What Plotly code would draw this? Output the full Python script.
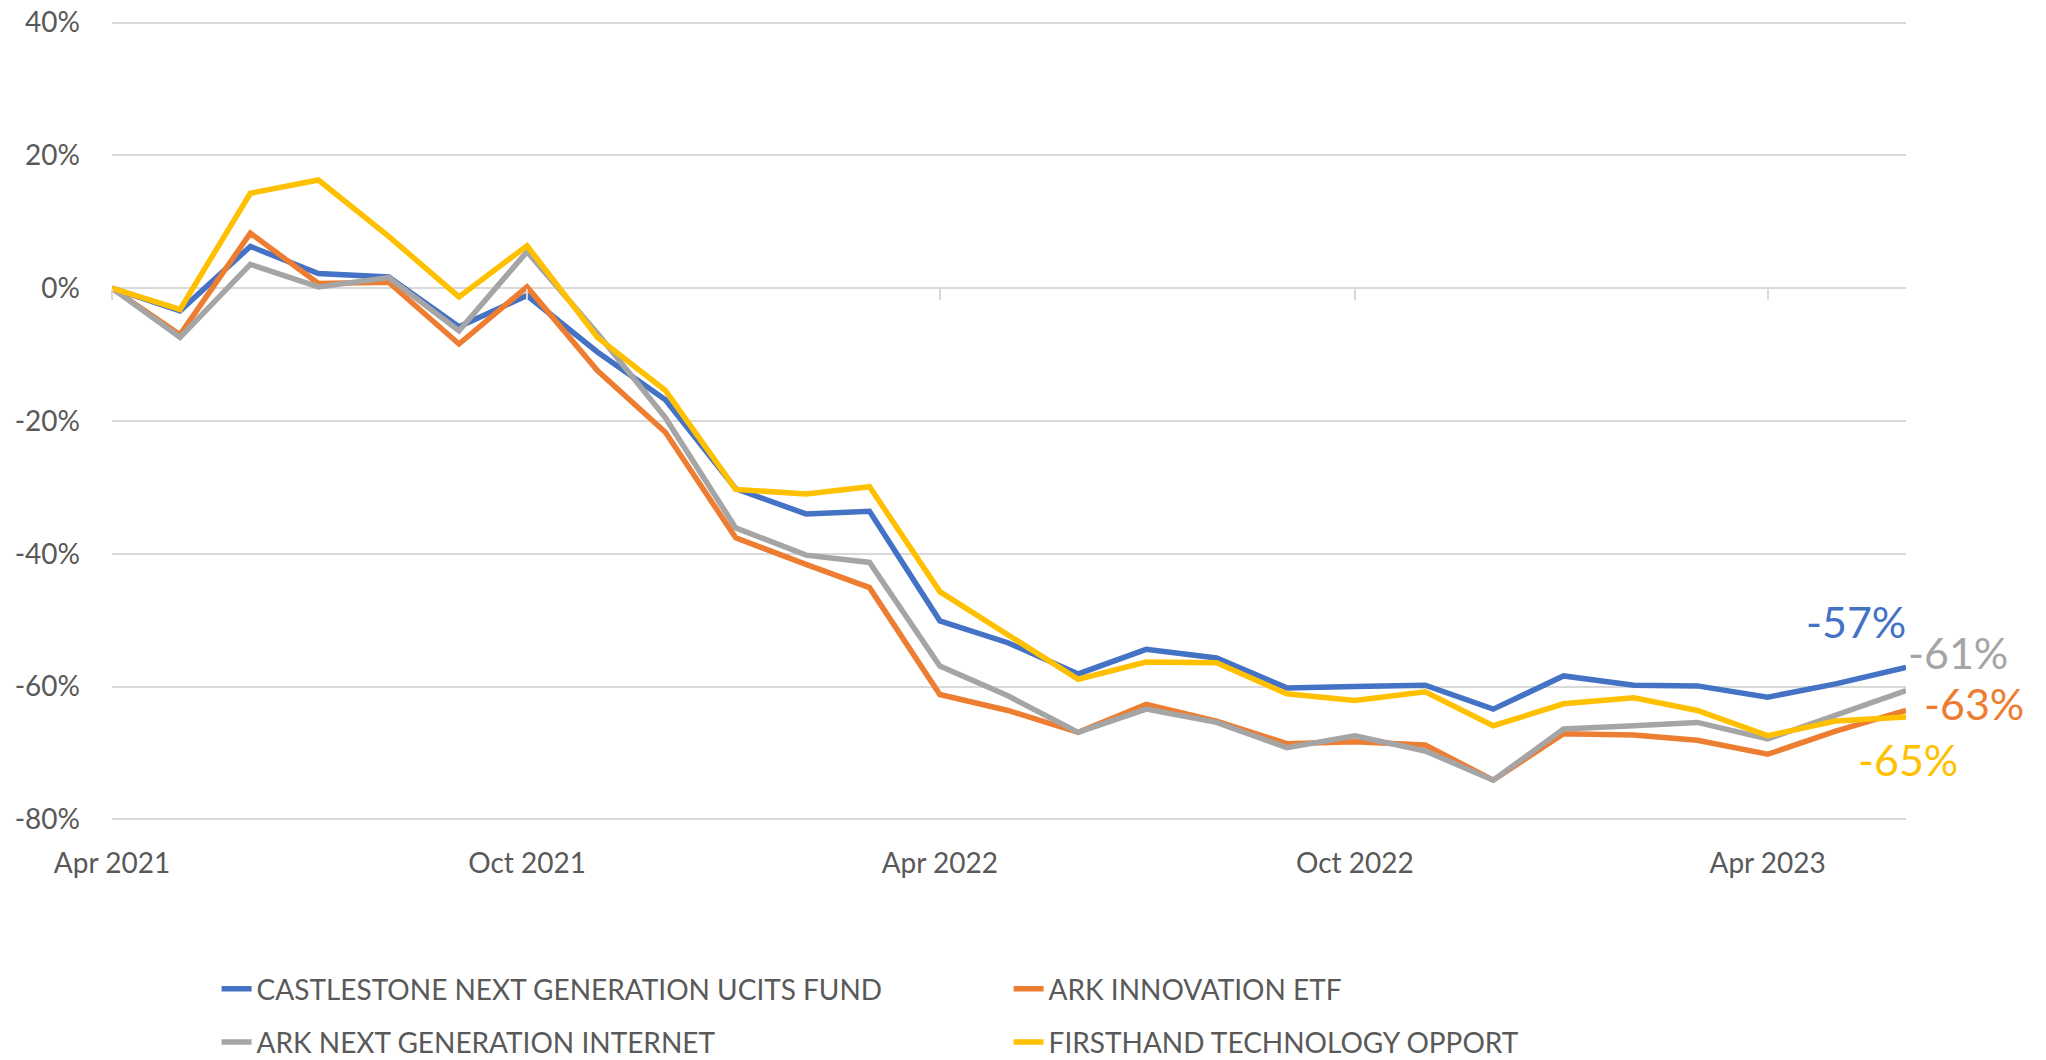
import plotly.graph_objects as go

months = ["2021-04-01", "2021-05-01", "2021-06-01", "2021-07-01", "2021-08-01", "2021-09-01",
          "2021-10-01", "2021-11-01", "2021-12-01", "2022-01-01", "2022-02-01", "2022-03-01",
          "2022-04-01", "2022-05-01", "2022-06-01", "2022-07-01", "2022-08-01", "2022-09-01",
          "2022-10-01", "2022-11-01", "2022-12-01", "2023-01-01", "2023-02-01", "2023-03-01",
          "2023-04-01", "2023-05-01", "2023-06-01"]

castlestone = [0, -3.4, 6.3, 2.2, 1.7, -5.8, -1.1, -9.6, -16.8, -30.2, -34.0, -33.6, -50.1, -53.4,
               -58.1, -54.4, -55.7, -60.2, -60.0, -59.8, -63.4, -58.4, -59.8, -59.9, -61.6, -59.6, -57.1]
ark_innovation = [0, -7.0, 8.3, 0.7, 0.9, -8.4, 0.2, -12.4, -21.7, -37.6, -41.6, -45.1, -61.2, -63.6,
                  -66.9, -62.7, -65.2, -68.6, -68.3, -68.8, -74.1, -67.1, -67.3, -68.1, -70.2, -66.7, -63.6]
ark_next_gen = [0, -7.4, 3.6, 0.2, 1.6, -6.4, 5.5, -6.8, -19.5, -36.1, -40.2, -41.3, -56.9, -61.4,
                -66.9, -63.4, -65.4, -69.2, -67.4, -69.7, -74.1, -66.4, -65.9, -65.4, -67.9, -64.4, -60.6]
firsthand = [0, -3.2, 14.3, 16.3, 7.8, -1.3, 6.4, -7.4, -15.4, -30.3, -31.0, -29.9, -45.7, -52.2,
             -58.9, -56.3, -56.4, -61.1, -62.1, -60.8, -65.9, -62.6, -61.7, -63.6, -67.4, -65.2, -64.6]

y_tick_vals = [40, 20, 0, -20, -40, -60, -80]
y_tick_text = ["40%", "20%", "0%", "-20%", "-40%", "-60%", "-80%"]

names = ["CASTLESTONE NEXT GENERATION UCITS FUND", "ARK INNOVATION ETF",
         "ARK NEXT GENERATION INTERNET", "FIRSTHAND TECHNOLOGY OPPORT"]
colors = ["#4472C4", "#ED7D31", "#A5A5A5", "#FFC000"]
end_labels = ["-57%", "-63%", "-61%", "-65%"]
series = [castlestone, ark_innovation, ark_next_gen, firsthand]
legend_ids = ["legend", "legend", "legend2", "legend2"]

FONT = "Lato"
TXT = "#595959"
GRID = "#D9D9D9"

fig = go.Figure()
for name, col, vals, lg in zip(names, colors, series, legend_ids):
    fig.add_trace(go.Scatter(x=months, y=vals, mode="lines", name=name,
                             line=dict(color=col, width=5.5), legend=lg))

# end-of-line labels (shift only positions the text relative to the last point)
shifts = {"-57%": ("right", 2, 46), "-63%": ("left", 16, 7),
          "-61%": ("left", 0, 38), "-65%": ("center", 2, -42)}
for lab, col, vals in zip(end_labels, colors, series):
    xa, xs, ys = shifts[lab]
    fig.add_annotation(x=months[-1], y=vals[-1], text=lab, showarrow=False,
                       xanchor=xa, yanchor="middle", xshift=xs, yshift=ys,
                       font=dict(family=FONT, size=43, color=col))

fig.update_layout(
    width=2046, height=1060,
    margin=dict(l=112, r=140, t=21, b=239, autoexpand=False),
    paper_bgcolor="white", plot_bgcolor="white",
    font=dict(family=FONT, color=TXT, size=28),
    xaxis=dict(type="date", range=[months[0], months[-1]], dtick="M6", tick0=months[0],
               tickformat="%b %Y", showgrid=False, zeroline=False, showline=False,
               ticks="", ticklabelstandoff=23, tickfont=dict(size=28, color=TXT)),
    xaxis2=dict(type="date", range=[months[0], months[-1]], dtick="M6", tick0=months[0],
                overlaying="x", anchor="free", position=80.25 / 120.5, side="bottom",
                showgrid=False, zeroline=False, showline=False, showticklabels=False,
                ticks="outside", ticklen=11, tickwidth=1.5, tickcolor=GRID),
    yaxis=dict(range=[-80.25, 40.25], tickmode="array", tickvals=y_tick_vals, ticktext=y_tick_text,
               showgrid=True, gridcolor=GRID, gridwidth=1.5, zeroline=False, showline=False,
               ticks="", ticklabelstandoff=31, tickfont=dict(size=28, color=TXT)),
    legend=dict(orientation="h", x=0.0583, xanchor="left", y=-0.1787, yanchor="top",
                entrywidth=747, entrywidthmode="pixels", font=dict(size=28, color=TXT, family=FONT),
                bgcolor="rgba(0,0,0,0)"),
    legend2=dict(orientation="h", x=0.0583, xanchor="left", y=-0.2454, yanchor="top",
                 entrywidth=747, entrywidthmode="pixels", font=dict(size=28, color=TXT, family=FONT),
                 bgcolor="rgba(0,0,0,0)"),
    showlegend=True,
)
# invisible helper trace so the tick-only xaxis2 renders its ticks on the 0% line
fig.add_trace(go.Scatter(x=[months[0]], y=[None], xaxis="x2", showlegend=False,
                         hoverinfo="skip"))

fig.write_html("out.html", config={"displayModeBar": False},
               post_script="document.body.style.margin='0';")
